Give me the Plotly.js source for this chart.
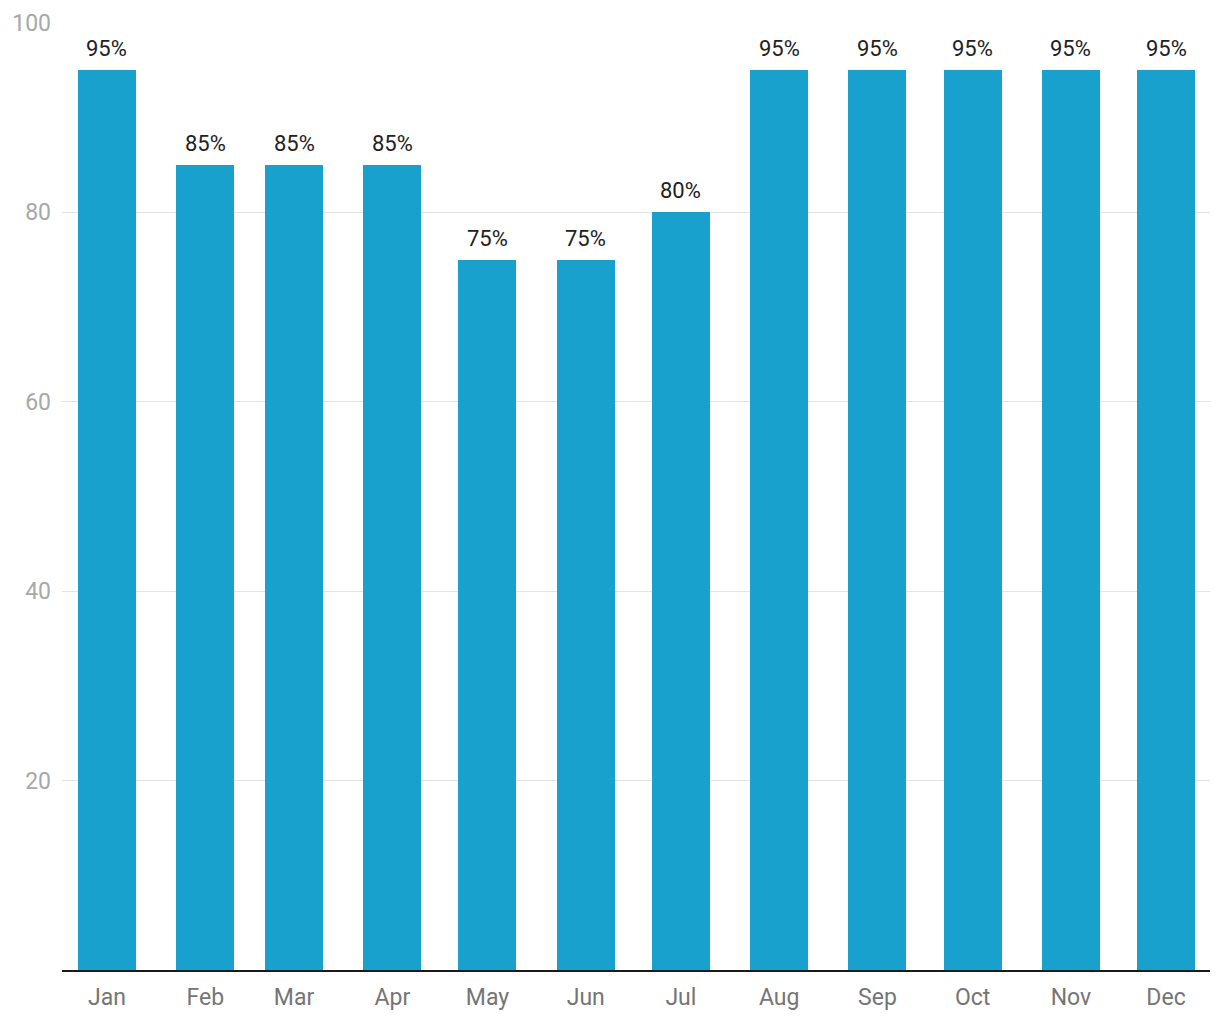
<!DOCTYPE html>
<html>
<head>
<meta charset="utf-8">
<script src="https://cdn.plot.ly/plotly-3.0.1.min.js"></script>
<style>
  body { margin: 0; background: #fff; }
  #chart { width: 1220px; height: 1020px; }
</style>
</head>
<body>
<div id="chart"></div>
<script>
// months are placed on a date axis, one bar per month start
var months = ['2023-01-01','2023-02-01','2023-03-01','2023-04-01','2023-05-01','2023-06-01',
              '2023-07-01','2023-08-01','2023-09-01','2023-10-01','2023-11-01','2023-12-01'];
var monthLabels = ['Jan','Feb','Mar','Apr','May','Jun','Jul','Aug','Sep','Oct','Nov','Dec'];
var values = [95, 85, 85, 85, 75, 75, 80, 95, 95, 95, 95, 95];
var yTicks = [20, 40, 60, 80, 100];

var DAY = 86400000;

var trace = {
  type: 'bar',
  x: months,
  y: values,
  width: months.map(function(){ return 18.3*DAY; }),
  marker: { color: '#18a1cd' },
  hoverinfo: 'x+y'
};

// value labels above bars
var annotations = months.map(function(m, i){
  return {
    x: m, y: values[i],
    xref: 'x', yref: 'y',
    text: values[i] + '%',
    showarrow: false,
    yanchor: 'bottom',
    yshift: 7,
    font: { family: 'Roboto, sans-serif', size: 22, color: '#212121' }
  };
});

var layout = {
  width: 1220,
  height: 1020,
  margin: { l: 62, r: 10, t: 23, b: 50 },
  paper_bgcolor: '#fff',
  plot_bgcolor: '#fff',
  showlegend: false,
  bargap: 0,
  font: { family: 'Roboto, sans-serif' },
  xaxis: {
    type: 'date',
    range: ['2022-12-17 19:30', '2023-12-14 21:00'],
    tickvals: months,
    ticktext: monthLabels,
    showgrid: false,
    showline: true,
    linecolor: '#1a1a1a',
    linewidth: 2,
    ticks: '',
    ticklabelstandoff: 5,
    tickfont: { size: 23, color: '#757575' },
    fixedrange: true
  },
  yaxis: {
    range: [0, 100],
    tickvals: yTicks,
    ticktext: yTicks.map(String),
    showgrid: true,
    gridcolor: '#e4e4e4',
    gridwidth: 1,
    zeroline: false,
    showline: false,
    ticks: '',
    ticklabelstandoff: 10,
    tickfont: { size: 23, color: '#a8a8a8' },
    fixedrange: true
  },
  annotations: annotations
};

Plotly.newPlot('chart', [trace], layout, { displayModeBar: false, staticPlot: true });
</script>
</body>
</html>
